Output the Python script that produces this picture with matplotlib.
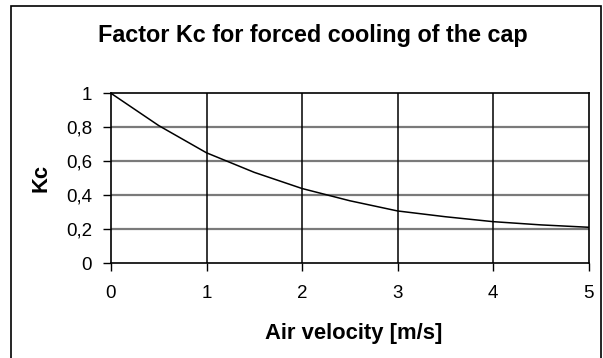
import matplotlib
matplotlib.use("Agg")
import matplotlib.pyplot as plt
from matplotlib.patches import Rectangle

plt.rcParams['font.family'] = ['Liberation Sans', 'DejaVu Sans']

# Air velocity [m/s] and cooling factor Kc
velocity = [0.0, 0.5, 1.0, 1.5, 2.0, 2.5, 3.0, 3.5, 4.0, 4.5, 5.0]
kc = [1.0, 0.81, 0.65, 0.535, 0.44, 0.368, 0.308, 0.274, 0.245, 0.226, 0.212]

x_ticks = [0, 1, 2, 3, 4, 5]
y_ticks = [0, 0.2, 0.4, 0.6, 0.8, 1.0]
y_tick_labels = ["0", "0,2", "0,4", "0,6", "0,8", "1"]

W, H = 603, 358
fig = plt.figure(figsize=(W / 100, H / 100), dpi=100)
fig.patch.set_facecolor("white")

# outer chart frame (open at the bottom edge)
fig.patches.append(Rectangle((11 / W, -0.05), (601 - 11) / W, 1 - 6 / H + 0.05,
                             transform=fig.transFigure, fill=False,
                             edgecolor="black", linewidth=1.2))

ax = fig.add_axes([111 / W, 1 - 263.3 / H, (588.5 - 111) / W, (263.3 - 93.3) / H])
ax.set_xlim(0, 5)
ax.set_ylim(0, 1)

# grid: grey horizontals, black verticals
for y in y_ticks[1:-1]:
    ax.axhline(y, color="#7a7a7a", linewidth=1.6, zorder=1)
for x in x_ticks[1:-1]:
    ax.axvline(x, color="black", linewidth=1.1, zorder=1)

ax.plot(velocity, kc, color="black", linewidth=1.1, zorder=3)

ax.set_xticks(x_ticks)
ax.set_xticklabels([str(v) for v in x_ticks])
ax.set_yticks(y_ticks)
ax.set_yticklabels(y_tick_labels)
ax.tick_params(axis="both", direction="out", length=5.5, width=1.0,
               labelsize=13.5, colors="black")
ax.tick_params(axis="x", pad=10)
ax.tick_params(axis="y", pad=8)
for s in ax.spines.values():
    s.set_linewidth(1.2)
    s.set_color("black")

fig.text(313 / W, 1 - 42.3 / H, "Factor Kc for forced cooling of the cap",
         ha="center", va="baseline", fontsize=16.8, fontweight="bold")
fig.text(354 / W, 1 - 339.3 / H, "Air velocity [m/s]",
         ha="center", va="baseline", fontsize=15.8, fontweight="bold")
fig.text(41 / W, 1 - 177.5 / H, "Kc", rotation=90,
         ha="center", va="center", fontsize=15.8, fontweight="bold")

fig.savefig("out.png", dpi=100)
